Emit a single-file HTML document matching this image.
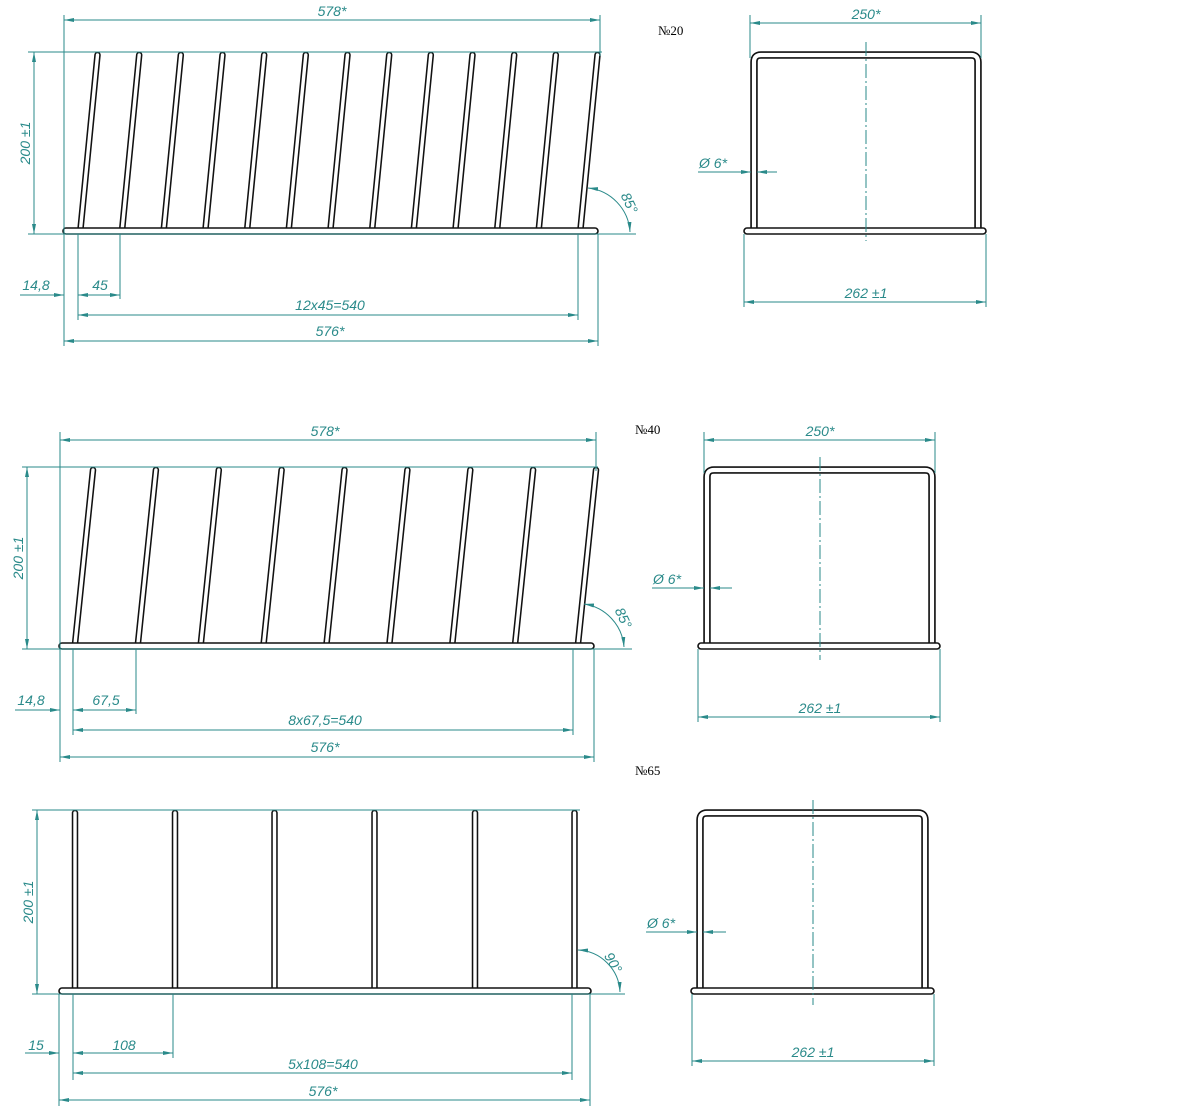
<!DOCTYPE html>
<html><head><meta charset="utf-8"><style>
html,body{margin:0;padding:0;background:#fff;}
svg{display:block;}
.d{stroke:#2a8a8a;stroke-width:1;fill:none;}
.t{fill:#2a8a8a;font-family:"Liberation Sans",sans-serif;font-style:italic;font-size:14px;}
.rb{stroke:#111;stroke-width:6.5;stroke-linecap:round;fill:none;}
.rw{stroke:#fff;stroke-width:3.4;stroke-linecap:round;fill:none;}
.fb{stroke:#111;stroke-width:7.5;fill:none;stroke-linejoin:round;}
.fw{stroke:#fff;stroke-width:4.2;fill:none;stroke-linejoin:round;}
.bar{fill:#fff;stroke:#111;stroke-width:1.6;}
.c{stroke:#2a8a8a;stroke-width:1;stroke-dasharray:14 3 2 3;}
.n{font-family:"Liberation Serif",serif;font-size:13px;fill:#000;}
</style></head><body>
<svg width="1200" height="1114" viewBox="0 0 1200 1114" xmlns="http://www.w3.org/2000/svg">
<defs>
<marker id="a" viewBox="0 0 10 4" refX="10" refY="2" markerWidth="10" markerHeight="4" markerUnits="userSpaceOnUse" orient="auto-start-reverse"><path d="M0,0 L10,2 L0,4 z" fill="#2a8a8a"/></marker>
</defs>

<!-- ============ DRAWING 1 (№20) ============ -->
<g>
<g class="rb">
<line x1="80.5" y1="229" x2="97.5" y2="55"/><line x1="122.2" y1="229" x2="139.2" y2="55"/><line x1="163.8" y1="229" x2="180.8" y2="55"/><line x1="205.5" y1="229" x2="222.5" y2="55"/><line x1="247.2" y1="229" x2="264.2" y2="55"/><line x1="288.8" y1="229" x2="305.8" y2="55"/><line x1="330.5" y1="229" x2="347.5" y2="55"/><line x1="372.2" y1="229" x2="389.2" y2="55"/><line x1="413.8" y1="229" x2="430.8" y2="55"/><line x1="455.5" y1="229" x2="472.5" y2="55"/><line x1="497.2" y1="229" x2="514.2" y2="55"/><line x1="538.8" y1="229" x2="555.8" y2="55"/><line x1="580.5" y1="229" x2="597.5" y2="55"/>
</g>
<g class="rw">
<line x1="80.5" y1="229" x2="97.5" y2="55"/><line x1="122.2" y1="229" x2="139.2" y2="55"/><line x1="163.8" y1="229" x2="180.8" y2="55"/><line x1="205.5" y1="229" x2="222.5" y2="55"/><line x1="247.2" y1="229" x2="264.2" y2="55"/><line x1="288.8" y1="229" x2="305.8" y2="55"/><line x1="330.5" y1="229" x2="347.5" y2="55"/><line x1="372.2" y1="229" x2="389.2" y2="55"/><line x1="413.8" y1="229" x2="430.8" y2="55"/><line x1="455.5" y1="229" x2="472.5" y2="55"/><line x1="497.2" y1="229" x2="514.2" y2="55"/><line x1="538.8" y1="229" x2="555.8" y2="55"/><line x1="580.5" y1="229" x2="597.5" y2="55"/>
</g>
<rect class="bar" x="63" y="228" width="535" height="6" rx="3"/>
<!-- dims -->
<line class="d" x1="64" y1="15" x2="64" y2="346"/>
<line class="d" x1="600" y1="15" x2="600" y2="56"/>
<line class="d" x1="64" y1="20" x2="600" y2="20" marker-start="url(#a)" marker-end="url(#a)"/>
<text class="t" x="332" y="16" text-anchor="middle">578*</text>
<line class="d" x1="28" y1="52" x2="602" y2="52"/>
<line class="d" x1="28" y1="234" x2="636" y2="234"/>
<line class="d" x1="34" y1="52" x2="34" y2="234" marker-start="url(#a)" marker-end="url(#a)"/>
<text class="t" transform="translate(30,143) rotate(-90)" text-anchor="middle">200 ±1</text>
<line class="d" x1="78" y1="234" x2="78" y2="320"/>
<line class="d" x1="120" y1="234" x2="120" y2="299"/>
<line class="d" x1="578" y1="234" x2="578" y2="320"/>
<line class="d" x1="598" y1="234" x2="598" y2="346"/>
<line class="d" x1="20" y1="295" x2="64" y2="295" marker-end="url(#a)"/>
<line class="d" x1="78" y1="295" x2="120" y2="295" marker-start="url(#a)" marker-end="url(#a)"/>
<text class="t" x="36" y="290" text-anchor="middle">14,8</text>
<text class="t" x="100" y="290" text-anchor="middle">45</text>
<line class="d" x1="78" y1="315" x2="578" y2="315" marker-start="url(#a)" marker-end="url(#a)"/>
<text class="t" x="330" y="310" text-anchor="middle">12x45=540</text>
<line class="d" x1="64" y1="341" x2="598" y2="341" marker-start="url(#a)" marker-end="url(#a)"/>
<text class="t" x="330" y="336" text-anchor="middle">576*</text>
<path class="d" d="M588,188 A47,47 0 0 1 630,232" marker-start="url(#a)" marker-end="url(#a)"/>
<text class="t" transform="translate(625,205) rotate(65)" text-anchor="middle">85°</text>
<text class="n" x="658" y="35">№20</text>
</g>
<!-- side 1 -->
<g>
<path class="fb" d="M754,229 V62 Q754,55 761,55 H971 Q978,55 978,62 V229"/>
<path class="fw" d="M754,229 V62 Q754,55 761,55 H971 Q978,55 978,62 V229"/>
<rect class="bar" x="744" y="228" width="242" height="6" rx="3"/>
<line class="c" x1="866" y1="42" x2="866" y2="241"/>
<line class="d" x1="750" y1="15" x2="750" y2="58"/>
<line class="d" x1="981" y1="15" x2="981" y2="58"/>
<line class="d" x1="750" y1="23" x2="981" y2="23" marker-start="url(#a)" marker-end="url(#a)"/>
<text class="t" x="866" y="19" text-anchor="middle">250*</text>
<line class="d" x1="744" y1="234" x2="744" y2="307"/>
<line class="d" x1="986" y1="234" x2="986" y2="307"/>
<line class="d" x1="744" y1="302" x2="986" y2="302" marker-start="url(#a)" marker-end="url(#a)"/>
<text class="t" x="866" y="298" text-anchor="middle">262 ±1</text>
<line class="d" x1="698" y1="172" x2="751" y2="172" marker-end="url(#a)"/>
<line class="d" x1="777" y1="172" x2="757" y2="172" marker-end="url(#a)"/>
<text class="t" x="699" y="168">Ø 6*</text>
</g>

<!-- ============ DRAWING 2 (№40) ============ -->
<g>
<g class="rb">
<line x1="75" y1="644" x2="93" y2="470"/><line x1="137.9" y1="644" x2="155.9" y2="470"/><line x1="200.8" y1="644" x2="218.8" y2="470"/><line x1="263.6" y1="644" x2="281.6" y2="470"/><line x1="326.5" y1="644" x2="344.5" y2="470"/><line x1="389.4" y1="644" x2="407.4" y2="470"/><line x1="452.3" y1="644" x2="470.3" y2="470"/><line x1="515.1" y1="644" x2="533.1" y2="470"/><line x1="578" y1="644" x2="596" y2="470"/>
</g>
<g class="rw">
<line x1="75" y1="644" x2="93" y2="470"/><line x1="137.9" y1="644" x2="155.9" y2="470"/><line x1="200.8" y1="644" x2="218.8" y2="470"/><line x1="263.6" y1="644" x2="281.6" y2="470"/><line x1="326.5" y1="644" x2="344.5" y2="470"/><line x1="389.4" y1="644" x2="407.4" y2="470"/><line x1="452.3" y1="644" x2="470.3" y2="470"/><line x1="515.1" y1="644" x2="533.1" y2="470"/><line x1="578" y1="644" x2="596" y2="470"/>
</g>
<rect class="bar" x="59" y="643" width="535" height="6" rx="3"/>
<line class="d" x1="60" y1="432" x2="60" y2="762"/>
<line class="d" x1="596" y1="432" x2="596" y2="471"/>
<line class="d" x1="60" y1="440" x2="596" y2="440" marker-start="url(#a)" marker-end="url(#a)"/>
<text class="t" x="325" y="436" text-anchor="middle">578*</text>
<line class="d" x1="22" y1="467" x2="598" y2="467"/>
<line class="d" x1="22" y1="649" x2="632" y2="649"/>
<line class="d" x1="27" y1="467" x2="27" y2="649" marker-start="url(#a)" marker-end="url(#a)"/>
<text class="t" transform="translate(23,558) rotate(-90)" text-anchor="middle">200 ±1</text>
<line class="d" x1="73" y1="649" x2="73" y2="735"/>
<line class="d" x1="136" y1="649" x2="136" y2="714"/>
<line class="d" x1="573" y1="649" x2="573" y2="735"/>
<line class="d" x1="594" y1="649" x2="594" y2="762"/>
<line class="d" x1="15" y1="710" x2="60" y2="710" marker-end="url(#a)"/>
<line class="d" x1="73" y1="710" x2="136" y2="710" marker-start="url(#a)" marker-end="url(#a)"/>
<text class="t" x="31" y="705" text-anchor="middle">14,8</text>
<text class="t" x="106" y="705" text-anchor="middle">67,5</text>
<line class="d" x1="73" y1="730" x2="573" y2="730" marker-start="url(#a)" marker-end="url(#a)"/>
<text class="t" x="325" y="725" text-anchor="middle">8x67,5=540</text>
<line class="d" x1="60" y1="757" x2="594" y2="757" marker-start="url(#a)" marker-end="url(#a)"/>
<text class="t" x="325" y="752" text-anchor="middle">576*</text>
<path class="d" d="M584,604 A47,47 0 0 1 624,647" marker-start="url(#a)" marker-end="url(#a)"/>
<text class="t" transform="translate(619,620) rotate(65)" text-anchor="middle">85°</text>
<text class="n" x="635" y="434">№40</text>
</g>
<!-- side 2 -->
<g>
<path class="fb" d="M707,644 V477 Q707,470 714,470 H925 Q932,470 932,477 V644"/>
<path class="fw" d="M707,644 V477 Q707,470 714,470 H925 Q932,470 932,477 V644"/>
<rect class="bar" x="698" y="643" width="242" height="6" rx="3"/>
<line class="c" x1="820" y1="457" x2="820" y2="660"/>
<line class="d" x1="704" y1="432" x2="704" y2="473"/>
<line class="d" x1="935" y1="432" x2="935" y2="473"/>
<line class="d" x1="704" y1="440" x2="935" y2="440" marker-start="url(#a)" marker-end="url(#a)"/>
<text class="t" x="820" y="436" text-anchor="middle">250*</text>
<line class="d" x1="698" y1="649" x2="698" y2="722"/>
<line class="d" x1="940" y1="649" x2="940" y2="722"/>
<line class="d" x1="698" y1="717" x2="940" y2="717" marker-start="url(#a)" marker-end="url(#a)"/>
<text class="t" x="820" y="713" text-anchor="middle">262 ±1</text>
<line class="d" x1="652" y1="588" x2="704" y2="588" marker-end="url(#a)"/>
<line class="d" x1="732" y1="588" x2="710" y2="588" marker-end="url(#a)"/>
<text class="t" x="653" y="584">Ø 6*</text>
</g>

<!-- ============ DRAWING 3 (№65) ============ -->
<g>
<g class="rb">
<line x1="75" y1="989" x2="75" y2="813"/><line x1="175" y1="989" x2="175" y2="813"/><line x1="274.5" y1="989" x2="274.5" y2="813"/><line x1="374.5" y1="989" x2="374.5" y2="813"/><line x1="475" y1="989" x2="475" y2="813"/><line x1="574.5" y1="989" x2="574.5" y2="813"/>
</g>
<g class="rw">
<line x1="75" y1="989" x2="75" y2="813"/><line x1="175" y1="989" x2="175" y2="813"/><line x1="274.5" y1="989" x2="274.5" y2="813"/><line x1="374.5" y1="989" x2="374.5" y2="813"/><line x1="475" y1="989" x2="475" y2="813"/><line x1="574.5" y1="989" x2="574.5" y2="813"/>
</g>
<rect class="bar" x="59" y="988" width="532" height="6" rx="3"/>
<line class="d" x1="32" y1="810" x2="580" y2="810"/>
<line class="d" x1="32" y1="994" x2="625" y2="994"/>
<line class="d" x1="37" y1="810" x2="37" y2="994" marker-start="url(#a)" marker-end="url(#a)"/>
<text class="t" transform="translate(33,902) rotate(-90)" text-anchor="middle">200 ±1</text>
<line class="d" x1="59" y1="994" x2="59" y2="1106"/>
<line class="d" x1="73" y1="994" x2="73" y2="1080"/>
<line class="d" x1="173" y1="994" x2="173" y2="1058"/>
<line class="d" x1="572" y1="994" x2="572" y2="1080"/>
<line class="d" x1="590" y1="994" x2="590" y2="1106"/>
<line class="d" x1="25" y1="1053" x2="59" y2="1053" marker-end="url(#a)"/>
<line class="d" x1="73" y1="1053" x2="173" y2="1053" marker-start="url(#a)" marker-end="url(#a)"/>
<text class="t" x="36" y="1050" text-anchor="middle">15</text>
<text class="t" x="124" y="1050" text-anchor="middle">108</text>
<line class="d" x1="73" y1="1073" x2="572" y2="1073" marker-start="url(#a)" marker-end="url(#a)"/>
<text class="t" x="323" y="1069" text-anchor="middle">5x108=540</text>
<line class="d" x1="59" y1="1100" x2="590" y2="1100" marker-start="url(#a)" marker-end="url(#a)"/>
<text class="t" x="323" y="1096" text-anchor="middle">576*</text>
<path class="d" d="M578,950 A44,44 0 0 1 620,992" marker-start="url(#a)" marker-end="url(#a)"/>
<text class="t" transform="translate(609,965) rotate(60)" text-anchor="middle">90°</text>
<text class="n" x="635" y="775">№65</text>
</g>
<!-- side 3 -->
<g>
<path class="fb" d="M700,989 V820 Q700,813 707,813 H918 Q925,813 925,820 V989"/>
<path class="fw" d="M700,989 V820 Q700,813 707,813 H918 Q925,813 925,820 V989"/>
<rect class="bar" x="691" y="988" width="243" height="6" rx="3"/>
<line class="c" x1="813" y1="800" x2="813" y2="1005"/>
<line class="d" x1="692" y1="994" x2="692" y2="1066"/>
<line class="d" x1="934" y1="994" x2="934" y2="1066"/>
<line class="d" x1="692" y1="1061" x2="934" y2="1061" marker-start="url(#a)" marker-end="url(#a)"/>
<text class="t" x="813" y="1057" text-anchor="middle">262 ±1</text>
<line class="d" x1="646" y1="932" x2="697" y2="932" marker-end="url(#a)"/>
<line class="d" x1="726" y1="932" x2="703" y2="932" marker-end="url(#a)"/>
<text class="t" x="647" y="928">Ø 6*</text>
</g>
</svg>
</body></html>
